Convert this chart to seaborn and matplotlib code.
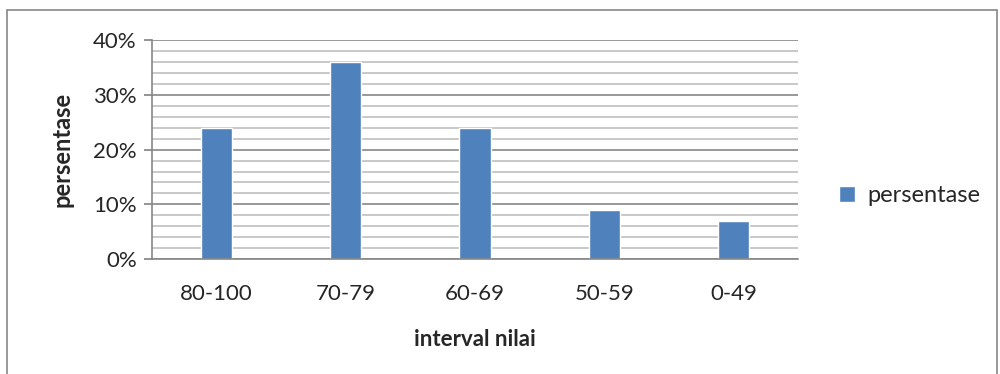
import pandas as pd
import matplotlib.pyplot as plt
import seaborn as sns
from matplotlib.ticker import MultipleLocator, PercentFormatter
from matplotlib.patches import Rectangle

# Data

categories = ["80-100", "70-79", "60-69", "50-59", "0-49"]
persentase = [24, 36, 24, 9, 7]

data = pd.DataFrame({"interval": categories, "persentase": persentase})

bar_color = "#4F81BD"

sns.set_theme(style="white")
plt.rcParams['font.family'] = ['Lato', 'DejaVu Sans']

fig = plt.figure(figsize=(10, 3.74), dpi=100)
ax = fig.add_axes([0.152, 0.307, 0.646, 0.586])

sns.barplot(data=data, x="interval", y="persentase", color=bar_color,
            width=0.24, saturation=1, ax=ax, label="persentase")

ax.set_ylim(0, 40)
ax.set_xlim(-0.5, 4.5)
ax.yaxis.set_major_locator(MultipleLocator(10))
ax.yaxis.set_minor_locator(MultipleLocator(2))
ax.yaxis.set_major_formatter(PercentFormatter(decimals=0))

# gridlines like the spreadsheet version
ax.set_axisbelow(True)
ax.grid(which="major", axis="y", color="#868686", linewidth=1.2)
ax.grid(which="minor", axis="y", color="#BFBFBF", linewidth=1.2)

for side in ["top", "right"]:
    ax.spines[side].set_visible(False)
ax.spines["left"].set_color("#868686")
ax.spines["bottom"].set_color("#868686")
ax.spines["left"].set_linewidth(1.2)
ax.spines["bottom"].set_linewidth(1.2)

ax.tick_params(axis="y", which="major", left=True, length=6, color="#868686",
               labelsize=16, pad=5)
ax.tick_params(axis="y", which="minor", left=False)
ax.tick_params(axis="x", bottom=False, labelsize=16, pad=12)

ax.set_xlabel("interval nilai", fontsize=16, fontweight="bold", labelpad=18)
ax.set_ylabel("persentase", fontsize=17, fontweight="bold", labelpad=14)

ax.legend(loc="center left", bbox_to_anchor=(1.03, 0.29), frameon=False,
          fontsize=17, handlelength=0.7, handleheight=0.7, handletextpad=0.5)

# outer chart border
fig.patches.append(Rectangle((0.007, -0.1), 0.99, 1.073, transform=fig.transFigure,
                             fill=False, edgecolor="#868686", linewidth=1.2))

fig.savefig("out.png", dpi=100)
